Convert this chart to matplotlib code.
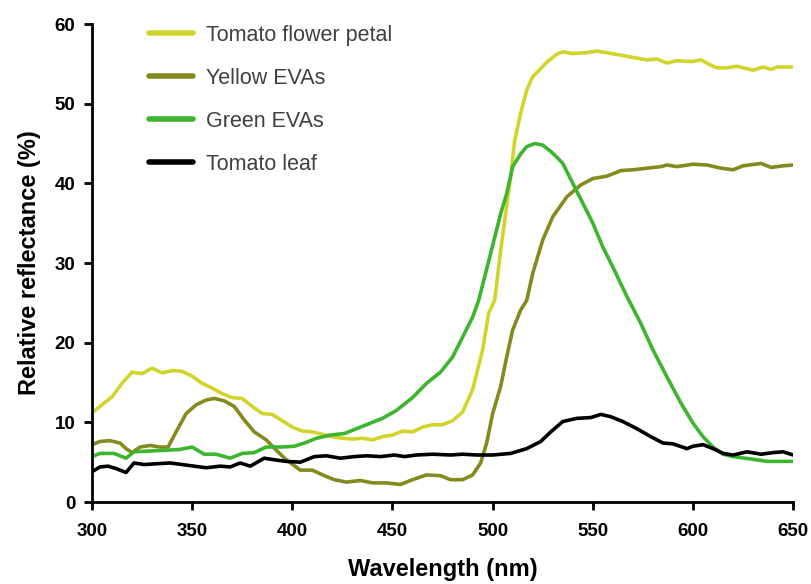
import numpy as np
import matplotlib.pyplot as plt

plt.rcParams['font.family'] = ['Liberation Sans', 'DejaVu Sans']

# Tomato flower petal
petal_wl = [300, 304, 310, 315, 320, 325, 330, 335, 340, 345, 350, 355, 360, 365, 370, 375,
            380, 385, 390, 395, 400, 405, 410, 415, 420, 425, 430, 435, 440, 445, 450, 455,
            460, 465, 470, 475, 480, 485, 490, 495, 498, 501, 504, 509, 511, 514, 517, 520,
            524, 527, 532, 535, 540, 547, 552, 557, 564, 570, 577, 582, 587, 592, 597, 600,
            604, 609, 612, 617, 622, 625, 630, 635, 639, 642, 650]
petal_val = [11.2, 12.0, 13.2, 14.9, 16.3, 16.1, 16.8, 16.2, 16.5, 16.4, 15.8, 14.9, 14.3, 13.6,
             13.1, 13.0, 12.0, 11.1, 11.0, 10.2, 9.4, 8.9, 8.8, 8.5, 8.2, 8.0, 7.9, 8.0, 7.8,
             8.2, 8.4, 8.9, 8.8, 9.4, 9.7, 9.7, 10.2, 11.3, 14.1, 19.1, 23.7, 25.3, 31.6, 40.8,
             45.4, 48.8, 51.7, 53.4, 54.4, 55.2, 56.2, 56.5, 56.3, 56.4, 56.6, 56.4, 56.1, 55.8,
             55.5, 55.6, 55.1, 55.4, 55.3, 55.3, 55.5, 54.8, 54.5, 54.5, 54.7, 54.5, 54.2, 54.6,
             54.3, 54.6, 54.6]

# Yellow EVAs
yeva_wl = [300, 304, 309, 314, 317, 320, 324, 329, 334, 338, 342, 347, 352, 357, 361, 366,
           371, 376, 381, 387, 392, 397, 404, 410, 416, 421, 427, 434, 440, 447, 454, 460,
           467, 474, 479, 485, 490, 494, 497, 500, 504, 507, 510, 514, 517, 520, 525, 530,
           537, 544, 550, 557, 564, 570, 577, 584, 587, 592, 600, 607, 614, 620, 625, 634,
           639, 645, 650]
yeva_val = [7.2, 7.6, 7.7, 7.4, 6.7, 6.2, 6.9, 7.1, 6.9, 6.9, 8.8, 11.1, 12.2, 12.8, 13.0, 12.7,
            12.0, 10.3, 8.8, 7.8, 6.5, 5.3, 4.0, 4.0, 3.3, 2.8, 2.5, 2.7, 2.4, 2.4, 2.2, 2.8,
            3.4, 3.3, 2.8, 2.8, 3.4, 4.9, 7.4, 11.1, 14.5, 18.2, 21.6, 24.1, 25.3, 28.7, 32.9,
            35.8, 38.3, 39.8, 40.6, 40.9, 41.6, 41.7, 41.9, 42.1, 42.3, 42.1, 42.4, 42.3, 41.9,
            41.7, 42.2, 42.5, 42.0, 42.2, 42.3]

# Green EVAs
geva_wl = [300, 304, 311, 317, 321, 329, 337, 344, 350, 356, 362, 369, 375, 381, 387, 394,
           401, 406, 412, 419, 426, 432, 439, 445, 452, 460, 467, 474, 480, 485, 490, 493,
           499, 504, 507, 510, 514, 517, 521, 525, 529, 532, 535, 540, 545, 550, 555, 560,
           567, 574, 580, 587, 594, 600, 605, 610, 615, 620, 629, 637, 650]
geva_val = [5.7, 6.1, 6.1, 5.5, 6.3, 6.4, 6.5, 6.6, 6.9, 6.0, 6.0, 5.5, 6.1, 6.2, 6.9, 6.9,
            7.0, 7.4, 8.0, 8.4, 8.6, 9.2, 9.9, 10.5, 11.5, 13.1, 14.9, 16.3, 18.2, 20.7, 23.2,
            25.3, 31.2, 36.2, 38.7, 42.1, 43.7, 44.6, 45.0, 44.8, 44.0, 43.3, 42.5, 40.0, 37.5,
            35.0, 32.0, 29.5, 25.8, 22.4, 19.1, 15.7, 12.4, 9.9, 8.2, 6.9, 6.0, 5.7, 5.4, 5.1,
            5.1]

# Tomato leaf
leaf_wl = [300, 304, 308, 312, 317, 321, 326, 332, 339, 345, 351, 357, 364, 369, 374, 379,
           386, 391, 397, 404, 411, 417, 424, 431, 437, 444, 451, 456, 462, 470, 479, 485,
           492, 500, 509, 517, 524, 529, 535, 542, 549, 554, 559, 565, 572, 579, 585, 590,
           597, 600, 605, 610, 615, 620, 627, 634, 640, 645, 650]
leaf_val = [3.8, 4.4, 4.5, 4.2, 3.7, 4.9, 4.7, 4.8, 4.9, 4.7, 4.5, 4.3, 4.5, 4.4, 4.9, 4.5,
            5.5, 5.3, 5.1, 5.0, 5.7, 5.8, 5.5, 5.7, 5.8, 5.7, 5.9, 5.7, 5.9, 6.0, 5.9, 6.0,
            5.9, 5.9, 6.1, 6.7, 7.6, 8.8, 10.1, 10.5, 10.6, 11.0, 10.7, 10.1, 9.2, 8.2, 7.4,
            7.3, 6.7, 7.0, 7.2, 6.7, 6.1, 5.9, 6.3, 6.0, 6.2, 6.3, 5.9]

series = [
    ('Tomato flower petal', petal_wl, petal_val, '#d2d42c'),
    ('Yellow EVAs', yeva_wl, yeva_val, '#858a1e'),
    ('Green EVAs', geva_wl, geva_val, '#3db52e'),
    ('Tomato leaf', leaf_wl, leaf_val, '#000000'),
]

fig = plt.figure(figsize=(8.11, 5.84), dpi=100)
ax = fig.add_axes([0.1134, 0.1404, 0.8646, 0.8185])

for name, wl, val, col in series:
    ax.plot(wl, val, color=col, lw=2.6, label=name, solid_capstyle='round')

ax.set_xlim(300, 650)
ax.set_ylim(0, 60)
ax.set_xticks(np.arange(300, 651, 50))
ax.set_yticks(np.arange(0, 61, 10))
for s in ['top', 'right']:
    ax.spines[s].set_visible(False)
for s in ['left', 'bottom']:
    ax.spines[s].set_linewidth(2)
ax.tick_params(width=2, length=6, labelsize=13.5, pad=6)
ax.tick_params(axis='x', pad=9)
for lab in ax.get_xticklabels() + ax.get_yticklabels():
    lab.set_fontweight('bold')

ax.set_xlabel('Wavelength (nm)', fontsize=17, fontweight='bold', labelpad=13)
ax.set_ylabel('Relative reflectance (%)', fontsize=17, fontweight='bold', labelpad=10)

leg = ax.legend(loc='upper left', bbox_to_anchor=(0.066, 1.021), frameon=False,
                fontsize=15.5, handlelength=2.05, handletextpad=0.6, labelspacing=1.02,
                borderpad=0)
for h in leg.get_lines():
    h.set_linewidth(4)
for t in leg.get_texts():
    t.set_color('#404040')

fig.savefig('out.png', dpi=100)
